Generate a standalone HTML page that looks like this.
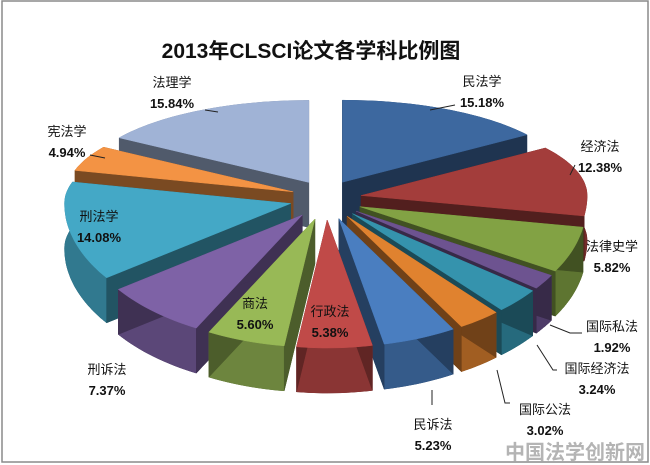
<!DOCTYPE html>
<html><head><meta charset="utf-8"><style>
html,body{margin:0;padding:0;background:#fff;}
svg{display:block;}
text{font-family:"Liberation Sans","Noto Sans CJK SC",sans-serif;}
</style></head><body>
<svg id="chart" width="650" height="465" viewBox="0 0 650 465">
<rect x="2" y="1" width="646" height="461" fill="#fff" stroke="#8a8a8a" stroke-width="1.5"/>
<text x="311" y="58" text-anchor="middle" font-size="21" font-weight="bold" fill="#111">2013年CLSCI论文各学科比例图</text>
<g id="slices"></g>
<g id="labels"></g>
<text x="575" y="459" text-anchor="middle" font-size="20" font-weight="bold" fill="#b4b4b4">中国法学创新网</text>
</svg>
<script>
const categories=["民法学","经济法","法律史学","国际私法","国际经济法","国际公法","民诉法","行政法","商法","刑诉法","刑法学","宪法学","法理学"];
const values=[15.18,12.38,5.82,1.92,3.24,3.02,5.23,5.38,5.60,7.37,14.08,4.94,15.84];
const valueLabels=["15.18%","12.38%","5.82%","1.92%","3.24%","3.02%","5.23%","5.38%","5.60%","7.37%","14.08%","4.94%","15.84%"];
const colors=["#3d689f","#a33d3b","#82a244","#6d5390","#3593ad","#e0822f","#4a7ec0","#c04a48","#98b956","#7e62a6","#44a8c6","#f39344","#a0b3d6"];
const labelPos=[[482,86],[600,151],[612,251],[612,331],[597,373],[545,414],[433,429],[330,316],[255,308],[107,374],[99,221],[67,136],[172,87]];
const cx=326,cy=200,rx=226,ryT=82,ryB=128,depth=45,expX=36,expY=20;
const NS="http://www.w3.org/2000/svg";
function proj(a,r){const s=Math.sin(a),c=Math.cos(a);return [cx+rx*r*s, cy-(c>0?ryT:ryB)*r*c];}
function shade(hex,f){const n=parseInt(hex.slice(1),16);const r=Math.round(((n>>16)&255)*f),g=Math.round(((n>>8)&255)*f),b=Math.round((n&255)*f);return `rgb(${r},${g},${b})`;}
function poly(pts,fill,name){const p=document.createElementNS(NS,"polygon");p.setAttribute("points",pts.map(q=>q[0].toFixed(1)+","+q[1].toFixed(1)).join(" "));p.setAttribute("fill",fill);p.setAttribute("stroke",fill);p.setAttribute("stroke-width","0.5");


return p;}
const total=values.reduce((a,b)=>a+b,0);
let acc=0;const sl=[];
values.forEach((v,i)=>{const a0=acc/total*2*Math.PI;acc+=v;const a1=acc/total*2*Math.PI;sl.push({i,a0,a1,m:(a0+a1)/2});});
const g=document.getElementById("slices");
sl.map(s=>({s,key:-Math.cos(s.m)})).sort((a,b)=>a.key-b.key).forEach(({s})=>{
  const ox=Math.sin(s.m)*expX, oy=-Math.cos(s.m)*expY;
  const tip=[cx+ox,cy+oy];const arc=[];
  const n=Math.max(2,Math.ceil((s.a1-s.a0)/0.03));
  for(let k=0;k<=n;k++){const a=s.a0+(s.a1-s.a0)*k/n;const p=proj(a,1);arc.push([p[0]+ox,p[1]+oy]);}
  const dn=p=>[p[0],p[1]+depth];
  const col=colors[s.i];
  const grp=document.createElementNS(NS,"g");
  
  
  grp.appendChild(poly([tip,...arc].map(dn),shade(col,0.55),'slice-bottom'));
  grp.appendChild(poly([...arc,...arc.slice().reverse().map(dn)],shade(col,0.72),'slice-outer-wall'));
  grp.appendChild(poly([tip,arc[0],dn(arc[0]),dn(tip)],shade(col,0.5),'slice-side-wall'));
  grp.appendChild(poly([tip,arc[arc.length-1],dn(arc[arc.length-1]),dn(tip)],shade(col,0.5),'slice-side-wall'));
  grp.appendChild(poly([tip,...arc],col,'slice-top'));
  g.appendChild(grp);
});
const lg=document.getElementById("labels");
categories.forEach((c,i)=>{
  const t=document.createElementNS(NS,"text");
  t.setAttribute("x",labelPos[i][0]);t.setAttribute("y",labelPos[i][1]);
  t.setAttribute("text-anchor","middle");t.setAttribute("font-size","13");t.setAttribute("fill","#111");
  
  
  const t1=document.createElementNS(NS,"tspan");t1.setAttribute("x",labelPos[i][0]);t1.textContent=c;
  const t2=document.createElementNS(NS,"tspan");t2.setAttribute("x",labelPos[i][0]);t2.setAttribute("dy","21");t2.setAttribute("font-weight","bold");t2.textContent=valueLabels[i];
  t.appendChild(t1);t.appendChild(t2);lg.appendChild(t);
});
const leaders=[[[430,110],[455,105]],[[570,175],[575,165]],[[550,325],[570,333],[582,333]],[[537,345],[553,370],[557,370]],[[497,370],[505,403],[510,403]],[[432,390],[432,405]],[[205,110],[218,112]],[[90,155],[105,158]]];
leaders.forEach(pts=>{const l=document.createElementNS(NS,"polyline");l.setAttribute("points",pts.map(p=>p.join(",")).join(" "));l.setAttribute("fill","none");l.setAttribute("stroke","#222");l.setAttribute("stroke-width","1");


lg.appendChild(l);});
</script>
</body></html>
